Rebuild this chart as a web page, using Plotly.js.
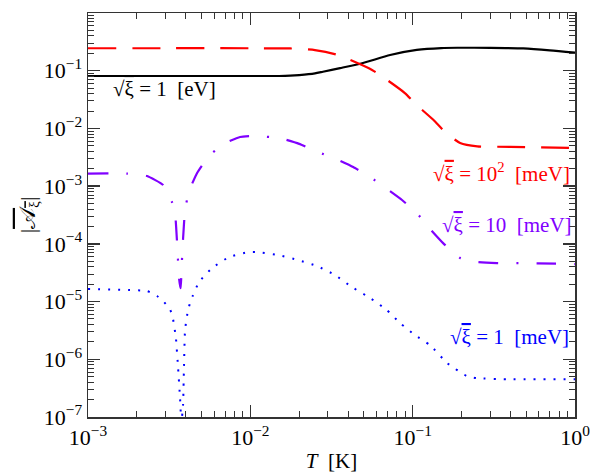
<!DOCTYPE html>
<html>
<head>
<meta charset="utf-8">
<script src="https://cdn.plot.ly/plotly-3.0.1.min.js"></script>
<style>html,body{margin:0;padding:0;background:#fff;}#plot{width:594px;height:474px;}</style>
</head>
<body>
<div id="plot"></div>
<script>
// sqrt(xi) = 1 eV (black, solid)
const blackX = [0.001, 0.005, 0.01, 0.015, 0.0176, 0.02, 0.025, 0.028, 0.0357, 0.0494, 0.0726, 0.106, 0.15, 0.188, 0.3, 0.48, 0.7, 1.0];
const blackY = [0.081, 0.081, 0.081, 0.081, 0.082, 0.084, 0.09, 0.096, 0.111, 0.136, 0.187, 0.229, 0.247, 0.25, 0.249, 0.244, 0.226, 0.205];
// sqrt(xi) = 10^2 meV (red, dashed)
const redX = [0.001, 0.01, 0.0176, 0.02, 0.025, 0.034, 0.0442, 0.0562, 0.0696, 0.0895, 0.106, 0.134, 0.158, 0.196, 0.25, 0.4, 1.0];
const redY = [0.245, 0.245, 0.243, 0.24, 0.228, 0.19, 0.141, 0.103, 0.069, 0.041, 0.0254, 0.0141, 0.0087, 0.0056, 0.0049, 0.0048, 0.0046];
// sqrt(xi) = 10 meV (purple, dash-dot)
const purpleX = [0.001, 0.00174, 0.00231, 0.0029, 0.00329, 0.00344, 0.00353, 0.00364, 0.00372, 0.0038, 0.00385, 0.00396, 0.00419, 0.0047, 0.00549, 0.00679, 0.00865, 0.0107, 0.0152, 0.02, 0.0261, 0.0337, 0.043, 0.0547, 0.0696, 0.086, 0.106, 0.128, 0.154, 0.196, 0.249, 0.331, 0.583, 1.0];
const purpleY = [1.65e-3, 1.65e-3, 1.5e-3, 1.05e-3, 5.3e-4, 3.4e-4, 1.16e-4, 2.5e-5, 1.7e-5, 6e-5, 1.2e-4, 3.85e-4, 8.2e-4, 1.69e-3, 3.19e-3, 5.37e-3, 7.1e-3, 7.4e-3, 6.8e-3, 5.4e-3, 3.9e-3, 2.95e-3, 2.14e-3, 1.44e-3, 8.9e-4, 5.75e-4, 3.42e-4, 1.81e-4, 1.03e-4, 5.7e-5, 4.84e-5, 4.65e-5, 4.6e-5, 4.47e-5];
// sqrt(xi) = 1 meV (blue, dotted)
const blueX = [0.001, 0.00231, 0.00266, 0.0029, 0.0032, 0.00334, 0.00348, 0.00359, 0.00369, 0.00376, 0.00385, 0.0039, 0.00396, 0.00413, 0.00431, 0.00483, 0.00581, 0.00739, 0.00968, 0.0111, 0.0148, 0.0197, 0.0258, 0.0333, 0.0423, 0.0547, 0.0696, 0.0836, 0.1035, 0.128, 0.163, 0.216, 0.249, 0.4, 1.0];
const blueY = [1.65e-5, 1.52e-5, 1.25e-5, 1.02e-5, 7.4e-6, 4.98e-6, 2.33e-6, 7.0e-7, 2.13e-7, 8e-8, 1.6e-7, 7e-7, 3.2e-6, 7.1e-6, 1.06e-5, 2.18e-5, 3.81e-5, 5.9e-5, 7.2e-5, 7.2e-5, 6.4e-5, 5.24e-5, 4.12e-5, 2.88e-5, 1.78e-5, 1.15e-5, 7.1e-6, 4.24e-6, 2.62e-6, 1.76e-6, 8.6e-7, 5.1e-7, 4.7e-7, 4.5e-7, 4.5e-7];

const xTickVals = [0.001, 0.01, 0.1, 1];
const xTickText = ['10<sup>−3</sup>', '10<sup>−2</sup>', '10<sup>−1</sup>', '10<sup>0</sup>'];
const yTickVals = [1e-7, 1e-6, 1e-5, 1e-4, 1e-3, 1e-2, 1e-1, 1];
const yTickText = ['10<sup>−7</sup>', '10<sup>−6</sup>', '10<sup>−5</sup>', '10<sup>−4</sup>', '10<sup>−3</sup>', '10<sup>−2</sup>', '10<sup>−1</sup>', '10<sup>0</sup>'];

const labelTexts = [
  '√<span style="text-decoration:overline">ξ</span> = 1  [eV]',
  '√<span style="text-decoration:overline">ξ</span> = 10<sup>2</sup>  [meV]',
  '√<span style="text-decoration:overline">ξ</span> = 10  [meV]',
  '√<span style="text-decoration:overline">ξ</span> = 1  [meV]'
];
const labelX = [0.00139, 0.955, 0.985, 0.95];
const labelY = [0.049, 0.0017, 2.1e-4, 2.4e-6];
const labelColors = ['#000000', '#ff0000', '#8000ff', '#0000ff'];
const labelAnchor = ['left', 'right', 'right', 'right'];

const FONT = 'Liberation Serif';

const traces = [
  {x: blackX, y: blackY, mode: 'lines', line: {color: '#000000', width: 2.2, shape: 'spline', smoothing: 0.6}},
  {x: redX, y: redY, mode: 'lines', line: {color: '#ff0000', width: 2.2, dash: '28px,16px', shape: 'spline', smoothing: 0.6}},
  {x: purpleX, y: purpleY, mode: 'lines', line: {color: '#8000ff', width: 2.2, dash: '20px,18px,2px,18px', shape: 'spline', smoothing: 0.4}},
  {x: blueX, y: blueY, mode: 'lines', line: {color: '#0000ff', width: 2, dash: '2px,8px', shape: 'spline', smoothing: 0.4}}
];

const annotations = labelTexts.map((t, i) => ({
  x: Math.log10(labelX[i]), y: Math.log10(labelY[i]), xref: 'x', yref: 'y',
  text: t, showarrow: false, xanchor: labelAnchor[i], yanchor: 'middle',
  font: {family: FONT, size: 21, color: labelColors[i]}
}));

const axisCommon = {
  type: 'log', showgrid: false, zeroline: false, showline: true, linecolor: '#333', linewidth: 1.5,
  mirror: 'allticks', ticks: 'inside', ticklen: 12, tickwidth: 1.3, tickcolor: '#333',
  minor: {ticks: 'inside', ticklen: 6, tickwidth: 1, tickcolor: '#333', dtick: 'D1'},
  tickfont: {family: FONT, size: 22, color: '#000'}
};

const layout = {
  width: 594, height: 474,
  margin: {l: 88, r: 19, t: 13, b: 57},
  paper_bgcolor: '#fff', plot_bgcolor: '#fff',
  showlegend: false,
  xaxis: Object.assign({}, axisCommon, {
    range: [-3, 0], tickmode: 'array', tickvals: xTickVals, ticktext: xTickText,
    title: {text: '<i>T</i>  [K]', font: {family: FONT, size: 21, color: '#000'}, standoff: 4}
  }),
  yaxis: Object.assign({}, axisCommon, {
    range: [-7, 0], tickmode: 'array', tickvals: yTickVals, ticktext: yTickText,
    title: {text: '|<span style="text-decoration:overline">𝒜<sub>ξ</sub></span>|', font: {family: FONT, size: 22, color: '#000'}, standoff: 2}
  }),
  annotations: annotations
};

Plotly.newPlot('plot', traces, layout, {staticPlot: true, displayModeBar: false});
</script>
</body>
</html>
